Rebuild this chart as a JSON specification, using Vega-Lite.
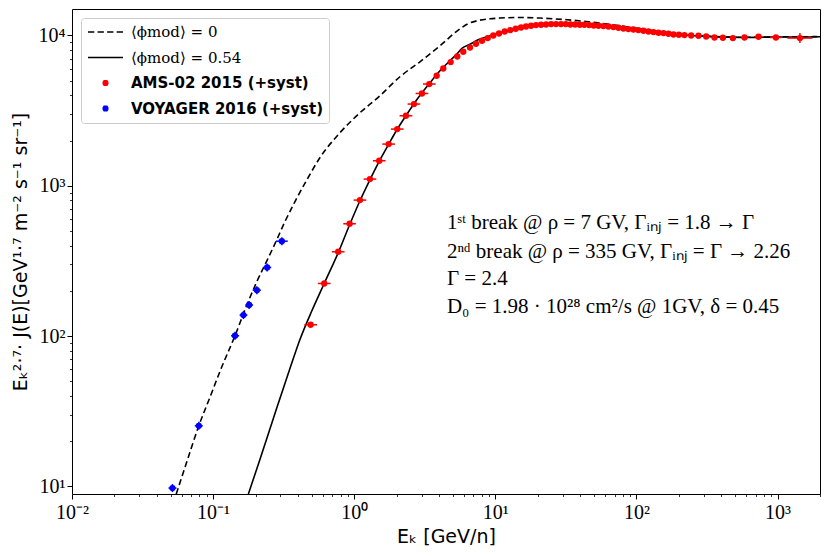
{
  "$schema": "https://vega.github.io/schema/vega-lite/v6.json",
  "width": 748,
  "height": 485,
  "autosize": "none",
  "padding": {"left": 72, "top": 9, "right": 10, "bottom": 63},
  "background": "white",
  "datasets": {
    "curves": [
      {"series": "⟨ϕmod⟩ = 0", "Ek": 0.0548, "F": 8.89},
      {"series": "⟨ϕmod⟩ = 0", "Ek": 0.0651, "F": 14.57},
      {"series": "⟨ϕmod⟩ = 0", "Ek": 0.0792, "F": 25.3},
      {"series": "⟨ϕmod⟩ = 0", "Ek": 0.0947, "F": 38.86},
      {"series": "⟨ϕmod⟩ = 0", "Ek": 0.1153, "F": 62.5},
      {"series": "⟨ϕmod⟩ = 0", "Ek": 0.143, "F": 100.5},
      {"series": "⟨ϕmod⟩ = 0", "Ek": 0.1725, "F": 159.1},
      {"series": "⟨ϕmod⟩ = 0", "Ek": 0.204, "F": 229.8},
      {"series": "⟨ϕmod⟩ = 0", "Ek": 0.2404, "F": 316.9},
      {"series": "⟨ϕmod⟩ = 0", "Ek": 0.2785, "F": 424.1},
      {"series": "⟨ϕmod⟩ = 0", "Ek": 0.3225, "F": 576.1},
      {"series": "⟨ϕmod⟩ = 0", "Ek": 0.3797, "F": 782.5},
      {"series": "⟨ϕmod⟩ = 0", "Ek": 0.4619, "F": 1096},
      {"series": "⟨ϕmod⟩ = 0", "Ek": 0.571, "F": 1536},
      {"series": "⟨ϕmod⟩ = 0", "Ek": 0.7919, "F": 2252},
      {"series": "⟨ϕmod⟩ = 0", "Ek": 1.098, "F": 3060},
      {"series": "⟨ϕmod⟩ = 0", "Ek": 1.521, "F": 3970},
      {"series": "⟨ϕmod⟩ = 0", "Ek": 2.109, "F": 5312},
      {"series": "⟨ϕmod⟩ = 0", "Ek": 2.924, "F": 6683},
      {"series": "⟨ϕmod⟩ = 0", "Ek": 4.053, "F": 8542},
      {"series": "⟨ϕmod⟩ = 0", "Ek": 5.619, "F": 11081},
      {"series": "⟨ϕmod⟩ = 0", "Ek": 6.402, "F": 11962},
      {"series": "⟨ϕmod⟩ = 0", "Ek": 7.417, "F": 12525},
      {"series": "⟨ϕmod⟩ = 0", "Ek": 9.171, "F": 12914},
      {"series": "⟨ϕmod⟩ = 0", "Ek": 10.8, "F": 13054},
      {"series": "⟨ϕmod⟩ = 0", "Ek": 14.97, "F": 13175},
      {"series": "⟨ϕmod⟩ = 0", "Ek": 20.75, "F": 13054},
      {"series": "⟨ϕmod⟩ = 0", "Ek": 32.25, "F": 12720},
      {"series": "⟨ϕmod⟩ = 0", "Ek": 55.28, "F": 12092},
      {"series": "⟨ϕmod⟩ = 0", "Ek": 90.23, "F": 11340},
      {"series": "⟨ϕmod⟩ = 0", "Ek": 147.3, "F": 10583},
      {"series": "⟨ϕmod⟩ = 0", "Ek": 204.2, "F": 10186},
      {"series": "⟨ϕmod⟩ = 0", "Ek": 283.0, "F": 9955},
      {"series": "⟨ϕmod⟩ = 0", "Ek": 392.4, "F": 9804},
      {"series": "⟨ϕmod⟩ = 0", "Ek": 543.8, "F": 9727},
      {"series": "⟨ϕmod⟩ = 0", "Ek": 754.1, "F": 9758},
      {"series": "⟨ϕmod⟩ = 0", "Ek": 1045, "F": 9804},
      {"series": "⟨ϕmod⟩ = 0", "Ek": 1449, "F": 9804},
      {"series": "⟨ϕmod⟩ = 0", "Ek": 2000, "F": 9833},
      {"series": "⟨ϕmod⟩ = 0.54", "Ek": 0.1777, "F": 8.89},
      {"series": "⟨ϕmod⟩ = 0.54", "Ek": 0.2144, "F": 15.03},
      {"series": "⟨ϕmod⟩ = 0.54", "Ek": 0.274, "F": 30.41},
      {"series": "⟨ϕmod⟩ = 0.54", "Ek": 0.3499, "F": 60.6},
      {"series": "⟨ϕmod⟩ = 0.54", "Ek": 0.412, "F": 94.5},
      {"series": "⟨ϕmod⟩ = 0.54", "Ek": 0.5012, "F": 147.3},
      {"series": "⟨ϕmod⟩ = 0.54", "Ek": 0.613, "F": 223.9},
      {"series": "⟨ϕmod⟩ = 0.54", "Ek": 0.77, "F": 358.3},
      {"series": "⟨ϕmod⟩ = 0.54", "Ek": 0.928, "F": 550.2},
      {"series": "⟨ϕmod⟩ = 0.54", "Ek": 1.098, "F": 794.7},
      {"series": "⟨ϕmod⟩ = 0.54", "Ek": 1.292, "F": 1096},
      {"series": "⟨ϕmod⟩ = 0.54", "Ek": 1.504, "F": 1455},
      {"series": "⟨ϕmod⟩ = 0.54", "Ek": 1.754, "F": 1888},
      {"series": "⟨ϕmod⟩ = 0.54", "Ek": 2.018, "F": 2376},
      {"series": "⟨ϕmod⟩ = 0.54", "Ek": 2.326, "F": 2922},
      {"series": "⟨ϕmod⟩ = 0.54", "Ek": 2.651, "F": 3513},
      {"series": "⟨ϕmod⟩ = 0.54", "Ek": 3.021, "F": 4157},
      {"series": "⟨ϕmod⟩ = 0.54", "Ek": 3.443, "F": 4846},
      {"series": "⟨ϕmod⟩ = 0.54", "Ek": 4.053, "F": 5823},
      {"series": "⟨ϕmod⟩ = 0.54", "Ek": 4.771, "F": 6786},
      {"series": "⟨ϕmod⟩ = 0.54", "Ek": 5.438, "F": 7672},
      {"series": "⟨ϕmod⟩ = 0.54", "Ek": 5.805, "F": 8219},
      {"series": "⟨ϕmod⟩ = 0.54", "Ek": 6.616, "F": 8739},
      {"series": "⟨ϕmod⟩ = 0.54", "Ek": 7.564, "F": 9363},
      {"series": "⟨ϕmod⟩ = 0.54", "Ek": 9.171, "F": 9955},
      {"series": "⟨ϕmod⟩ = 0.54", "Ek": 10.8, "F": 10423},
      {"series": "⟨ϕmod⟩ = 0.54", "Ek": 13.79, "F": 10997},
      {"series": "⟨ϕmod⟩ = 0.54", "Ek": 17.63, "F": 11513},
      {"series": "⟨ϕmod⟩ = 0.54", "Ek": 22.51, "F": 11780},
      {"series": "⟨ϕmod⟩ = 0.54", "Ek": 28.77, "F": 11906},
      {"series": "⟨ϕmod⟩ = 0.54", "Ek": 36.75, "F": 11870},
      {"series": "⟨ϕmod⟩ = 0.54", "Ek": 46.95, "F": 11726},
      {"series": "⟨ϕmod⟩ = 0.54", "Ek": 59.98, "F": 11548},
      {"series": "⟨ϕmod⟩ = 0.54", "Ek": 76.63, "F": 11250},
      {"series": "⟨ϕmod⟩ = 0.54", "Ek": 106.2, "F": 10830},
      {"series": "⟨ϕmod⟩ = 0.54", "Ek": 147.3, "F": 10423},
      {"series": "⟨ϕmod⟩ = 0.54", "Ek": 204.2, "F": 10109},
      {"series": "⟨ϕmod⟩ = 0.54", "Ek": 283.0, "F": 9908},
      {"series": "⟨ϕmod⟩ = 0.54", "Ek": 392.4, "F": 9758},
      {"series": "⟨ϕmod⟩ = 0.54", "Ek": 543.8, "F": 9698},
      {"series": "⟨ϕmod⟩ = 0.54", "Ek": 754.1, "F": 9727},
      {"series": "⟨ϕmod⟩ = 0.54", "Ek": 1045, "F": 9773},
      {"series": "⟨ϕmod⟩ = 0.54", "Ek": 1449, "F": 9773},
      {"series": "⟨ϕmod⟩ = 0.54", "Ek": 2000, "F": 9804}
    ],
    "measurements": [
      {"series": "AMS-02 2015 (+syst)", "Ek": 0.491, "F": 118.9, "xlo": 0.443, "xhi": 0.545},
      {"series": "AMS-02 2015 (+syst)", "Ek": 0.613, "F": 223.9, "xlo": 0.553, "xhi": 0.68},
      {"series": "AMS-02 2015 (+syst)", "Ek": 0.77, "F": 363.8, "xlo": 0.694, "xhi": 0.854},
      {"series": "AMS-02 2015 (+syst)", "Ek": 0.928, "F": 558.8, "xlo": 0.837, "xhi": 1.029},
      {"series": "AMS-02 2015 (+syst)", "Ek": 1.098, "F": 803, "xlo": 0.99, "xhi": 1.218},
      {"series": "AMS-02 2015 (+syst)", "Ek": 1.292, "F": 1108, "xlo": 1.165, "xhi": 1.433},
      {"series": "AMS-02 2015 (+syst)", "Ek": 1.504, "F": 1467, "xlo": 1.356, "xhi": 1.668},
      {"series": "AMS-02 2015 (+syst)", "Ek": 1.754, "F": 1894, "xlo": 1.582, "xhi": 1.945},
      {"series": "AMS-02 2015 (+syst)", "Ek": 2.018, "F": 2384, "xlo": 1.82, "xhi": 2.238},
      {"series": "AMS-02 2015 (+syst)", "Ek": 2.326, "F": 2922, "xlo": 2.097, "xhi": 2.58},
      {"series": "AMS-02 2015 (+syst)", "Ek": 2.651, "F": 3497, "xlo": 2.39, "xhi": 2.94},
      {"series": "AMS-02 2015 (+syst)", "Ek": 3.021, "F": 4113, "xlo": 2.724, "xhi": 3.35},
      {"series": "AMS-02 2015 (+syst)", "Ek": 3.403, "F": 4751, "xlo": 3.069, "xhi": 3.774},
      {"series": "AMS-02 2015 (+syst)", "Ek": 3.841, "F": 5395},
      {"series": "AMS-02 2015 (+syst)", "Ek": 4.277, "F": 6031},
      {"series": "AMS-02 2015 (+syst)", "Ek": 4.827, "F": 6653},
      {"series": "AMS-02 2015 (+syst)", "Ek": 5.377, "F": 7249},
      {"series": "AMS-02 2015 (+syst)", "Ek": 5.929, "F": 7792},
      {"series": "AMS-02 2015 (+syst)", "Ek": 6.616, "F": 8321},
      {"series": "AMS-02 2015 (+syst)", "Ek": 7.296, "F": 8807},
      {"series": "AMS-02 2015 (+syst)", "Ek": 8.049, "F": 9220},
      {"series": "AMS-02 2015 (+syst)", "Ek": 8.835, "F": 9610},
      {"series": "AMS-02 2015 (+syst)", "Ek": 9.678, "F": 10000},
      {"series": "AMS-02 2015 (+syst)", "Ek": 10.62, "F": 10311},
      {"series": "AMS-02 2015 (+syst)", "Ek": 11.66, "F": 10632},
      {"series": "AMS-02 2015 (+syst)", "Ek": 12.78, "F": 10863},
      {"series": "AMS-02 2015 (+syst)", "Ek": 13.96, "F": 11081},
      {"series": "AMS-02 2015 (+syst)", "Ek": 15.22, "F": 11303},
      {"series": "AMS-02 2015 (+syst)", "Ek": 16.51, "F": 11478},
      {"series": "AMS-02 2015 (+syst)", "Ek": 17.92, "F": 11600},
      {"series": "AMS-02 2015 (+syst)", "Ek": 19.44, "F": 11726},
      {"series": "AMS-02 2015 (+syst)", "Ek": 21.1, "F": 11780},
      {"series": "AMS-02 2015 (+syst)", "Ek": 22.89, "F": 11835},
      {"series": "AMS-02 2015 (+syst)", "Ek": 24.83, "F": 11906},
      {"series": "AMS-02 2015 (+syst)", "Ek": 26.95, "F": 11906},
      {"series": "AMS-02 2015 (+syst)", "Ek": 29.24, "F": 11906},
      {"series": "AMS-02 2015 (+syst)", "Ek": 31.57, "F": 11906},
      {"series": "AMS-02 2015 (+syst)", "Ek": 34.03, "F": 11835},
      {"series": "AMS-02 2015 (+syst)", "Ek": 36.75, "F": 11835},
      {"series": "AMS-02 2015 (+syst)", "Ek": 39.68, "F": 11780},
      {"series": "AMS-02 2015 (+syst)", "Ek": 42.78, "F": 11780},
      {"series": "AMS-02 2015 (+syst)", "Ek": 46.18, "F": 11726},
      {"series": "AMS-02 2015 (+syst)", "Ek": 49.88, "F": 11654},
      {"series": "AMS-02 2015 (+syst)", "Ek": 53.77, "F": 11600},
      {"series": "AMS-02 2015 (+syst)", "Ek": 58.34, "F": 11548},
      {"series": "AMS-02 2015 (+syst)", "Ek": 63.28, "F": 11478},
      {"series": "AMS-02 2015 (+syst)", "Ek": 68.7, "F": 11373},
      {"series": "AMS-02 2015 (+syst)", "Ek": 74.55, "F": 11250},
      {"series": "AMS-02 2015 (+syst)", "Ek": 80.88, "F": 11132},
      {"series": "AMS-02 2015 (+syst)", "Ek": 87.75, "F": 11030},
      {"series": "AMS-02 2015 (+syst)", "Ek": 95.22, "F": 10963},
      {"series": "AMS-02 2015 (+syst)", "Ek": 103.3, "F": 10863},
      {"series": "AMS-02 2015 (+syst)", "Ek": 112.1, "F": 10747},
      {"series": "AMS-02 2015 (+syst)", "Ek": 121.7, "F": 10632},
      {"series": "AMS-02 2015 (+syst)", "Ek": 132.0, "F": 10535},
      {"series": "AMS-02 2015 (+syst)", "Ek": 143.2, "F": 10423},
      {"series": "AMS-02 2015 (+syst)", "Ek": 155.4, "F": 10375},
      {"series": "AMS-02 2015 (+syst)", "Ek": 168.7, "F": 10264},
      {"series": "AMS-02 2015 (+syst)", "Ek": 183.0, "F": 10155},
      {"series": "AMS-02 2015 (+syst)", "Ek": 199.9, "F": 10109},
      {"series": "AMS-02 2015 (+syst)", "Ek": 218.9, "F": 10062},
      {"series": "AMS-02 2015 (+syst)", "Ek": 244.3, "F": 10000},
      {"series": "AMS-02 2015 (+syst)", "Ek": 275.3, "F": 9955},
      {"series": "AMS-02 2015 (+syst)", "Ek": 312.1, "F": 9848},
      {"series": "AMS-02 2015 (+syst)", "Ek": 357.5, "F": 9698},
      {"series": "AMS-02 2015 (+syst)", "Ek": 410.1, "F": 9654},
      {"series": "AMS-02 2015 (+syst)", "Ek": 482.8, "F": 9610},
      {"series": "AMS-02 2015 (+syst)", "Ek": 583.4, "F": 9698},
      {"series": "AMS-02 2015 (+syst)", "Ek": 733.5, "F": 9804, "xlo": 687.4, "xhi": 782.6},
      {"series": "AMS-02 2015 (+syst)", "Ek": 974.3, "F": 9698, "xlo": 885.7, "xhi": 1071.7},
      {"series": "AMS-02 2015 (+syst)", "Ek": 1441, "F": 9610, "xlo": 1174, "xhi": 1768, "ylo": 8898, "yhi": 10379},
      {"series": "VOYAGER 2016 (+syst)", "Ek": 0.0515, "F": 9.75, "xlo": 0.0483, "xhi": 0.055, "ylo": 9.17, "yhi": 10.36},
      {"series": "VOYAGER 2016 (+syst)", "Ek": 0.0792, "F": 25.3, "xlo": 0.0742, "xhi": 0.0845, "ylo": 23.8, "yhi": 26.9},
      {"series": "VOYAGER 2016 (+syst)", "Ek": 0.143, "F": 100.5, "xlo": 0.134, "xhi": 0.153, "ylo": 94.5, "yhi": 106.8},
      {"series": "VOYAGER 2016 (+syst)", "Ek": 0.164, "F": 138, "xlo": 0.154, "xhi": 0.175, "ylo": 129.8, "yhi": 146.7},
      {"series": "VOYAGER 2016 (+syst)", "Ek": 0.18, "F": 161, "xlo": 0.169, "xhi": 0.192, "ylo": 151.5, "yhi": 171.1},
      {"series": "VOYAGER 2016 (+syst)", "Ek": 0.204, "F": 202, "xlo": 0.191, "xhi": 0.218, "ylo": 190, "yhi": 214.7},
      {"series": "VOYAGER 2016 (+syst)", "Ek": 0.2415, "F": 286, "xlo": 0.226, "xhi": 0.258, "ylo": 269, "yhi": 304},
      {"series": "VOYAGER 2016 (+syst)", "Ek": 0.307, "F": 428, "xlo": 0.279, "xhi": 0.338, "ylo": 402.6, "yhi": 455}
    ],
    "notes": [
      {"Ek": 4.54, "F": 517.5, "note": "1ˢᵗ break @ ρ = 7 GV, Γᵢₙⱼ = 1.8 → Γ"},
      {"Ek": 4.54, "F": 331.9, "note": "2ⁿᵈ break @ ρ = 335 GV, Γᵢₙⱼ = Γ → 2.26"},
      {"Ek": 4.54, "F": 219.5, "note": "Γ = 2.4"},
      {"Ek": 4.54, "F": 142.9, "note": "D₀ = 1.98 · 10²⁸ cm²/s @ 1GV, δ = 0.45"}
    ]
  },
  "encoding": {
    "color": {
      "field": "series",
      "type": "nominal",
      "scale": {
        "domain": ["⟨ϕmod⟩ = 0", "⟨ϕmod⟩ = 0.54", "AMS-02 2015 (+syst)", "VOYAGER 2016 (+syst)"],
        "range": ["black", "black", "#ff0000", "#0000ff"]
      },
      "legend": {
        "title": null,
        "orient": "none",
        "legendX": 9,
        "legendY": 9,
        "padding": 6,
        "rowPadding": 9.5,
        "symbolSize": 196,
        "symbolStrokeWidth": 1.5,
        "symbolType": {"expr": "indexof(datum.value, 'syst') > 0 ? 'M1.217,-0.321H1.783M1.129,-0.214H1.871M1.085,-0.107H1.915M1.071,0H1.929M1.085,0.107H1.915M1.129,0.214H1.871M1.217,0.321H1.783' : datum.value == '⟨ϕmod⟩ = 0' ? 'M-1,0H-0.1M0.37,0H1.27M1.73,0H2.63M3.1,0H4' : 'M-1,0H4'"},
        "labelOffset": 28,
        "labelFontSize": 15,
        "labelFont": {"expr": "indexof(datum.label, 'syst') > 0 ? 'DejaVu Sans' : 'DejaVu Serif'"},
        "labelFontWeight": {"expr": "indexof(datum.label, 'syst') > 0 ? 'bold' : 'normal'"},
        "labelLimit": 300,
        "fillColor": "white",
        "strokeColor": "#cccccc",
        "cornerRadius": 3
      }
    }
  },
  "layer": [
    {
      "data": {"name": "curves"},
      "transform": [{"filter": "datum.series == '⟨ϕmod⟩ = 0.54'"}],
      "mark": {"type": "line", "strokeWidth": 1.6, "interpolate": "monotone", "clip": true},
      "encoding": {
        "x": {
          "field": "Ek",
          "type": "quantitative",
          "scale": {"type": "log", "domain": [0.01, 2000], "nice": false},
          "axis": {
            "title": "Eₖ [GeV/n]",
            "values": [0.01, 0.02, 0.03, 0.04, 0.05, 0.06, 0.07, 0.08, 0.09, 0.1, 0.2, 0.3, 0.4, 0.5, 0.6, 0.7, 0.8, 0.9, 1, 2, 3, 4, 5, 6, 7, 8, 9, 10, 20, 30, 40, 50, 60, 70, 80, 90, 100, 200, 300, 400, 500, 600, 700, 800, 900, 1000, 2000],
            "labelExpr": "datum.value == 0.01 ? '10⁻²' : datum.value == 0.1 ? '10⁻¹' : datum.value == 1 ? '10⁰' : datum.value == 10 ? '10¹' : datum.value == 100 ? '10²' : datum.value == 1000 ? '10³' : ''",
            "labelFlush": false,
            "labelOverlap": false,
            "labelPadding": 3,
            "tickSize": {"condition": {"test": "indexof([0.01, 0.1, 1, 10, 100, 1000], datum.value) >= 0", "value": 5}, "value": 2.5},
            "tickWidth": {"condition": {"test": "indexof([0.01, 0.1, 1, 10, 100, 1000], datum.value) >= 0", "value": 1}, "value": 0.8},
            "titlePadding": 5
          }
        },
        "y": {
          "field": "F",
          "type": "quantitative",
          "scale": {"type": "log", "domain": [8.9, 15000], "nice": false},
          "axis": {
            "title": "Eₖ²·⁷· J(E)[GeV¹·⁷ m⁻² s⁻¹ sr⁻¹]",
            "values": [10, 20, 30, 40, 50, 60, 70, 80, 90, 100, 200, 300, 400, 500, 600, 700, 800, 900, 1000, 2000, 3000, 4000, 5000, 6000, 7000, 8000, 9000, 10000],
            "labelExpr": "datum.value == 10 ? '10¹' : datum.value == 100 ? '10²' : datum.value == 1000 ? '10³' : datum.value == 10000 ? '10⁴' : ''",
            "labelOverlap": false,
            "labelPadding": 2,
            "tickSize": {"condition": {"test": "indexof([10, 100, 1000, 10000], datum.value) >= 0", "value": 5}, "value": 2.5},
            "tickWidth": {"condition": {"test": "indexof([10, 100, 1000, 10000], datum.value) >= 0", "value": 1}, "value": 0.8},
            "titlePadding": 8
          }
        }
      }
    },
    {
      "data": {"name": "curves"},
      "transform": [{"filter": "datum.series == '⟨ϕmod⟩ = 0'"}],
      "mark": {"type": "line", "strokeWidth": 1.6, "strokeDash": [6, 3.5], "interpolate": "monotone", "clip": true},
      "encoding": {
        "x": {"field": "Ek", "type": "quantitative", "scale": {"type": "log", "domain": [0.01, 2000], "nice": false}, "title": "Eₖ [GeV/n]"},
        "y": {"field": "F", "type": "quantitative", "scale": {"type": "log", "domain": [8.9, 15000], "nice": false}, "title": "Eₖ²·⁷· J(E)[GeV¹·⁷ m⁻² s⁻¹ sr⁻¹]"}
      }
    },
    {
      "data": {"name": "measurements"},
      "transform": [{"filter": "isValid(datum.xlo)"}],
      "mark": {"type": "rule", "strokeWidth": 1.5},
      "encoding": {
        "x": {"field": "xlo", "type": "quantitative", "scale": {"type": "log", "domain": [0.01, 2000], "nice": false}, "title": "Eₖ [GeV/n]"},
        "x2": {"field": "xhi"},
        "y": {"field": "F", "type": "quantitative", "scale": {"type": "log", "domain": [8.9, 15000], "nice": false}, "title": "Eₖ²·⁷· J(E)[GeV¹·⁷ m⁻² s⁻¹ sr⁻¹]"}
      }
    },
    {
      "data": {"name": "measurements"},
      "transform": [{"filter": "isValid(datum.ylo)"}],
      "mark": {"type": "rule", "strokeWidth": 1.5},
      "encoding": {
        "x": {"field": "Ek", "type": "quantitative", "scale": {"type": "log", "domain": [0.01, 2000], "nice": false}, "title": "Eₖ [GeV/n]"},
        "y": {"field": "ylo", "type": "quantitative", "scale": {"type": "log", "domain": [8.9, 15000], "nice": false}, "title": "Eₖ²·⁷· J(E)[GeV¹·⁷ m⁻² s⁻¹ sr⁻¹]"},
        "y2": {"field": "yhi"}
      }
    },
    {
      "data": {"name": "measurements"},
      "mark": {"type": "circle", "size": 40, "opacity": 1},
      "encoding": {
        "x": {"field": "Ek", "type": "quantitative", "scale": {"type": "log", "domain": [0.01, 2000], "nice": false}, "title": "Eₖ [GeV/n]"},
        "y": {"field": "F", "type": "quantitative", "scale": {"type": "log", "domain": [8.9, 15000], "nice": false}, "title": "Eₖ²·⁷· J(E)[GeV¹·⁷ m⁻² s⁻¹ sr⁻¹]"}
      }
    },
    {
      "data": {"name": "notes"},
      "mark": {"type": "text", "align": "left", "baseline": "alphabetic", "font": "Liberation Serif", "fontSize": 21},
      "encoding": {
        "x": {"field": "Ek", "type": "quantitative", "scale": {"type": "log", "domain": [0.01, 2000], "nice": false}, "title": "Eₖ [GeV/n]"},
        "y": {"field": "F", "type": "quantitative", "scale": {"type": "log", "domain": [8.9, 15000], "nice": false}, "title": "Eₖ²·⁷· J(E)[GeV¹·⁷ m⁻² s⁻¹ sr⁻¹]"},
        "text": {"field": "note"},
        "color": {"value": "black"}
      }
    }
  ],
  "config": {
    "view": {"stroke": "black", "strokeWidth": 1},
    "axis": {
      "domain": false,
      "grid": false,
      "tickColor": "black",
      "labelColor": "black",
      "titleColor": "black",
      "labelFont": "Liberation Serif",
      "labelFontSize": 20,
      "titleFont": "DejaVu Sans",
      "titleFontSize": 19,
      "titleFontWeight": "normal"
    }
  }
}
